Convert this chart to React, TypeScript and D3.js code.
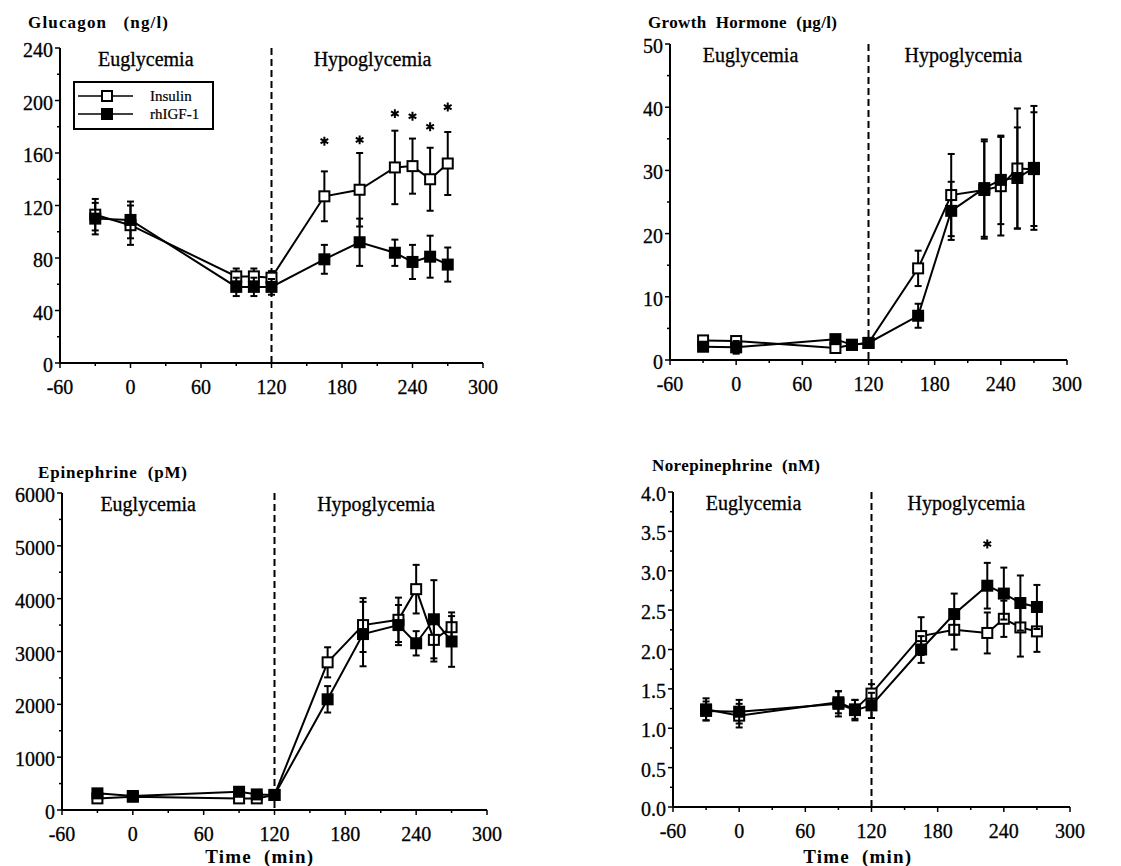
import React, { useEffect } from 'react';
import * as d3 from 'd3';

// sampling times (min) shared by all four panels
const times = [-30, 0, 90, 105, 120, 165, 195, 225, 240, 255, 270];
const xTicks = [-60, 0, 60, 120, 180, 240, 300];

// Glucagon (ng/l)
const glucagonInsulin = [113, 105, 66, 66, 65, 127, 132, 149, 150, 140, 152];
const glucagonInsulinSem = [12, 15, 6, 6, 5, 19, 28, 28, 21, 24, 24];
const glucagonIgf = [110, 109, 58, 58, 58, 79, 92, 84, 77, 81, 75];
const glucagonIgfSem = [12, 14, 7, 7, 6, 11, 18, 10, 13, 16, 13];
const glucagonStarTimes = [165, 195, 225, 240, 255, 270];
const glucagonStarLevels = [169, 170, 190, 188, 180, 195];

// Growth hormone (µg/l)
const ghInsulin = [3.1, 3.0, 1.9, 2.4, 2.7, 14.5, 26.1, 26.9, 27.5, 30.3, 30.2];
const ghInsulinSem = [0.5, 0.6, 0.4, 0.4, 0.4, 2.8, 6.5, 7.7, 7.8, 9.5, 9.0];
const ghIgf = [2.1, 2.0, 3.3, 2.4, 2.7, 7.0, 23.6, 27.2, 28.5, 28.8, 30.4];
const ghIgfSem = [0.4, 1.0, 0.5, 0.4, 0.4, 1.9, 4.6, 7.7, 7.0, 8.0, 9.8];

// Epinephrine (pM)
const epiInsulin = [220, 250, 220, 220, 285, 2795, 3500, 3600, 4180, 3220, 3460];
const epiInsulinSem = [40, 40, 40, 40, 40, 285, 510, 420, 460, 410, 280];
const epiIgf = [315, 265, 345, 295, 285, 2095, 3330, 3500, 3155, 3610, 3190];
const epiIgfSem = [40, 40, 40, 40, 40, 250, 610, 380, 230, 740, 480];

// Norepinephrine (nM)
const neInsulin = [1.24, 1.16, 1.33, 1.24, 1.44, 2.17, 2.25, 2.21, 2.39, 2.28, 2.23];
const neInsulinSem = [0.14, 0.15, 0.14, 0.12, 0.12, 0.24, 0.25, 0.26, 0.23, 0.37, 0.26];
const neIgf = [1.22, 1.21, 1.31, 1.23, 1.29, 2.0, 2.45, 2.81, 2.71, 2.59, 2.54];
const neIgfSem = [0.12, 0.15, 0.16, 0.13, 0.16, 0.17, 0.26, 0.29, 0.33, 0.35, 0.28];
const neStarTimes = [225];
const neStarLevels = [3.34];

const FONT = '"Liberation Serif", "Times New Roman", serif';

interface PanelProps {
  title: string;
  titleX: number;
  titleY: number;
  titleLen: number;
  left: number;
  right: number;
  top: number;
  bottom: number;
  yMax: number;
  yStep: number;
  yFmt: (v: number) => string;
  insulin: number[];
  insulinSem: number[];
  igf: number[];
  igfSem: number[];
  starTimes?: number[];
  starLevels?: number[];
  legend?: boolean;
  xTitle?: boolean;
}

function Panel(p: PanelProps) {
  const x = d3.scaleLinear().domain([-60, 300]).range([p.left, p.right]);
  const y = d3.scaleLinear().domain([0, p.yMax]).range([p.bottom, p.top]);
  const yTicks = d3.range(0, p.yMax + p.yStep / 2, p.yStep);
  const yMinor = d3.range(p.yStep / 2, p.yMax, p.yStep);
  const xMinor = d3.range(-30, 300, 60);
  const line = d3.line<number>().x((_, i) => x(times[i])).y(d => y(d));
  const star = d3.symbol().type(d3.symbolAsterisk).size(55)();

  const series = (vals: number[], sem: number[], filled: boolean) => (
    <g>
      <path d={line(vals)!} fill="none" stroke="#000" strokeWidth={2} />
      {vals.map((v, i) => (
        <g key={'e' + i} stroke="#000" strokeWidth={2}>
          <line x1={x(times[i])} x2={x(times[i])} y1={y(v - sem[i])} y2={y(v + sem[i])} />
          <line x1={x(times[i]) - 3.5} x2={x(times[i]) + 3.5} y1={y(v + sem[i])} y2={y(v + sem[i])} />
          <line x1={x(times[i]) - 3.5} x2={x(times[i]) + 3.5} y1={y(v - sem[i])} y2={y(v - sem[i])} />
        </g>
      ))}
      {vals.map((v, i) => (
        <rect key={'m' + i} x={x(times[i]) - 5} y={y(v) - 5} width={10} height={10}
          fill={filled ? '#000' : '#fff'} stroke="#000" strokeWidth={2} />
      ))}
    </g>
  );

  return (
    <g fontFamily={FONT}>
      <text x={p.titleX} y={p.titleY} fontSize={17} fontWeight="bold" textLength={p.titleLen}
        lengthAdjust="spacing" style={{ whiteSpace: 'pre' }}>{p.title}</text>

      {/* axes */}
      <line x1={p.left} x2={p.left} y1={p.top} y2={p.bottom} stroke="#000" strokeWidth={2} />
      <line x1={p.left} x2={p.right} y1={p.bottom} y2={p.bottom} stroke="#000" strokeWidth={2} />
      {yTicks.map(t => (
        <g key={'yt' + t}>
          <line x1={p.left - 5} x2={p.left} y1={y(t)} y2={y(t)} stroke="#000" strokeWidth={1.5} />
          <text x={p.left - 7} y={y(t) + 9} fontSize={20} textAnchor="end"
            stroke="#000" strokeWidth={0.3}>{p.yFmt(t)}</text>
        </g>
      ))}
      {yMinor.map(t => (
        <line key={'ym' + t} x1={p.left - 3} x2={p.left} y1={y(t)} y2={y(t)} stroke="#000" strokeWidth={1.5} />
      ))}
      {xTicks.map(t => (
        <g key={'xt' + t}>
          <line x1={x(t)} x2={x(t)} y1={p.bottom} y2={p.bottom + 5} stroke="#000" strokeWidth={1.5} />
          <text x={x(t)} y={p.bottom + 31} fontSize={20} textAnchor="middle"
            stroke="#000" strokeWidth={0.3}>{t}</text>
        </g>
      ))}
      {xMinor.map(t => (
        <line key={'xm' + t} x1={x(t)} x2={x(t)} y1={p.bottom} y2={p.bottom + 3} stroke="#000" strokeWidth={1.5} />
      ))}

      {/* clamp switch */}
      <line x1={x(120)} x2={x(120)} y1={p.top} y2={p.bottom} stroke="#000" strokeWidth={2} strokeDasharray="7,4" />
      <text x={x(13)} y={p.top + 18} fontSize={20} textAnchor="middle" stroke="#000" strokeWidth={0.3}>Euglycemia</text>
      <text x={x(206)} y={p.top + 18} fontSize={20} textAnchor="middle" stroke="#000" strokeWidth={0.3}>Hypoglycemia</text>

      {series(p.insulin, p.insulinSem, false)}
      {series(p.igf, p.igfSem, true)}

      {(p.starTimes || []).map((t, i) => (
        <path key={'s' + i} d={star!} transform={`translate(${x(t)},${y(p.starLevels![i])})`}
          fill="none" stroke="#000" strokeWidth={2} />
      ))}

      {p.legend && (
        <g>
          <rect x={74} y={82} width={139} height={47} fill="#fff" stroke="#000" strokeWidth={2} />
          <line x1={78} x2={133} y1={96} y2={96} stroke="#000" strokeWidth={1.5} />
          <rect x={102} y={91} width={10} height={10} fill="#fff" stroke="#000" strokeWidth={2} />
          <text x={150} y={101} fontSize={15} stroke="#000" strokeWidth={0.2}>Insulin</text>
          <line x1={78} x2={133} y1={114} y2={114} stroke="#000" strokeWidth={1.5} />
          <rect x={102} y={109} width={10} height={10} fill="#000" stroke="#000" strokeWidth={2} />
          <text x={150} y={119} fontSize={15} stroke="#000" strokeWidth={0.2}>rhIGF-1</text>
        </g>
      )}

      {p.xTitle && (
        <text x={x(107)} y={863} fontSize={19} fontWeight="bold" textAnchor="middle"
          textLength={108} lengthAdjust="spacing" style={{ whiteSpace: 'pre' }}>Time  (min)</text>
      )}
    </g>
  );
}

export default function App() {
  useEffect(() => {
    document.body.style.margin = '0';
  }, []);

  const fmtInt = (v: number) => `${v}`;
  const fmtOne = (v: number) => v.toFixed(1);

  return (
    <svg width={1121} height={866} style={{ display: 'block', background: '#fff' }}>
      <Panel title="Glucagon   (ng/l)" titleX={28} titleY={28} titleLen={140}
        left={60} right={483} top={48} bottom={363} yMax={240} yStep={40} yFmt={fmtInt}
        insulin={glucagonInsulin} insulinSem={glucagonInsulinSem} igf={glucagonIgf} igfSem={glucagonIgfSem}
        starTimes={glucagonStarTimes} starLevels={glucagonStarLevels} legend />
      <Panel title="Growth  Hormone  (µg/l)" titleX={648} titleY={28} titleLen={189}
        left={670} right={1067} top={44} bottom={360} yMax={50} yStep={10} yFmt={fmtInt}
        insulin={ghInsulin} insulinSem={ghInsulinSem} igf={ghIgf} igfSem={ghIgfSem} />
      <Panel title="Epinephrine  (pM)" titleX={38} titleY={478} titleLen={149}
        left={62} right={487} top={493} bottom={810} yMax={6000} yStep={1000} yFmt={fmtInt}
        insulin={epiInsulin} insulinSem={epiInsulinSem} igf={epiIgf} igfSem={epiIgfSem} xTitle />
      <Panel title="Norepinephrine  (nM)" titleX={652} titleY={471} titleLen={168}
        left={673} right={1070} top={492} bottom={807} yMax={4} yStep={0.5} yFmt={fmtOne}
        insulin={neInsulin} insulinSem={neInsulinSem} igf={neIgf} igfSem={neIgfSem}
        starTimes={neStarTimes} starLevels={neStarLevels} xTitle />
    </svg>
  );
}
